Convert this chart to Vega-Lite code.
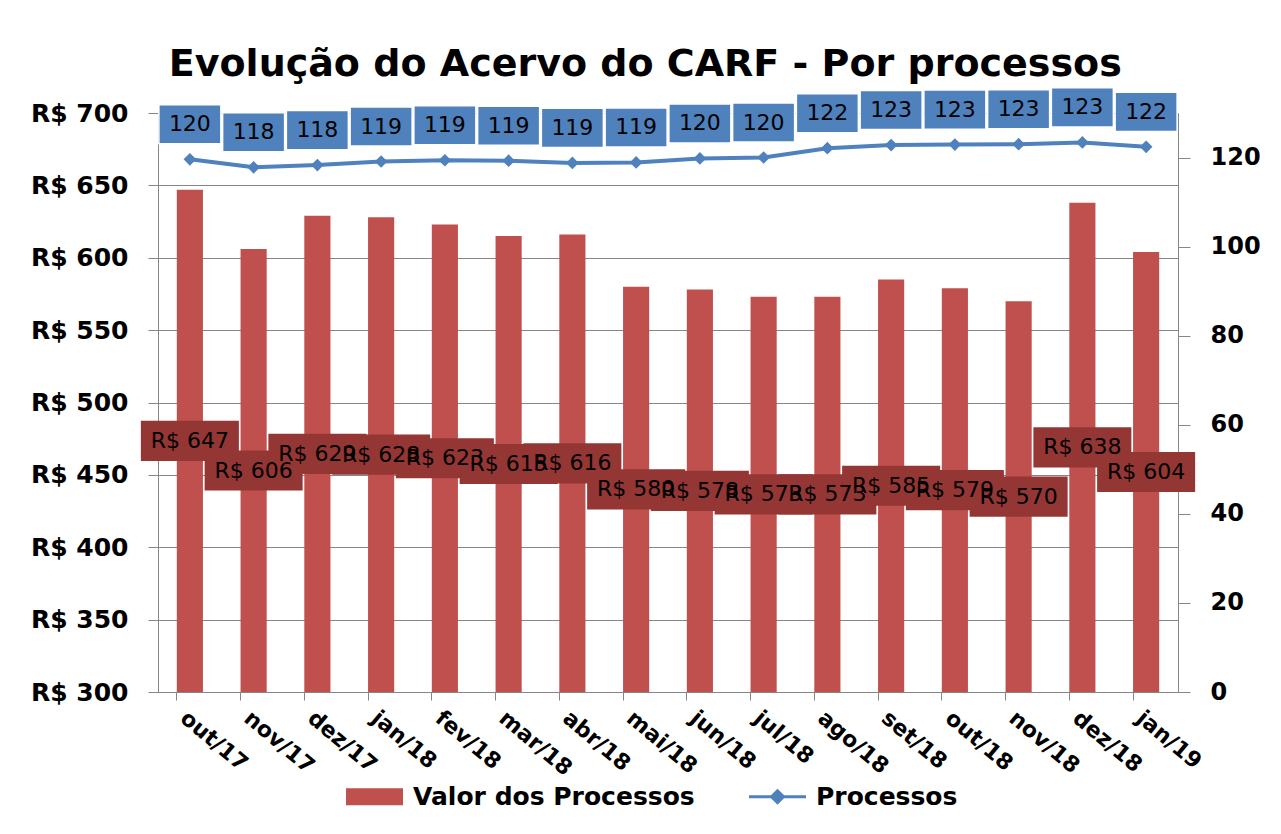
{
  "$schema": "https://vega.github.io/schema/vega-lite/v6.json",
  "width": 1020,
  "height": 579,
  "autosize": {"type": "none"},
  "padding": {"left": 158, "top": 113, "right": 103, "bottom": 142},
  "background": "white",
  "title": {
    "text": "Evolução do Acervo do CARF - Por processos",
    "font": "DejaVu Sans", "fontSize": 38, "fontWeight": "bold", "color": "black",
    "anchor": "middle", "frame": "bounds", "offset": 1
  },
  "config": {
    "locale": {"number": {"decimal": ",", "thousands": ".", "grouping": [3], "currency": ["R$ ", ""]}},
    "view": {"stroke": null},
    "axis": {
      "domainColor": "#868686", "tickColor": "#868686", "gridColor": "#868686",
      "labelFont": "DejaVu Sans", "labelFontWeight": "bold", "labelColor": "black"
    },
    "legend": {
      "orient": "none", "direction": "horizontal", "legendX": 204, "legendY": 671,
      "labelFont": "DejaVu Sans", "labelFontSize": 25, "labelFontWeight": "bold", "labelColor": "black",
      "symbolSize": 3249, "columnPadding": 48, "labelOffset": 26, "labelLimit": 400
    }
  },
  "data": {
    "values": [
      {"mes": "out/17", "valor": 647, "processos": 119.6},
      {"mes": "nov/17", "valor": 606, "processos": 117.8},
      {"mes": "dez/17", "valor": 629, "processos": 118.3},
      {"mes": "jan/18", "valor": 628, "processos": 119.1},
      {"mes": "fev/18", "valor": 623, "processos": 119.4},
      {"mes": "mar/18", "valor": 615, "processos": 119.3},
      {"mes": "abr/18", "valor": 616, "processos": 118.8},
      {"mes": "mai/18", "valor": 580, "processos": 118.9},
      {"mes": "jun/18", "valor": 578, "processos": 119.8},
      {"mes": "jul/18", "valor": 573, "processos": 120.0},
      {"mes": "ago/18", "valor": 573, "processos": 122.1},
      {"mes": "set/18", "valor": 585, "processos": 122.8},
      {"mes": "out/18", "valor": 579, "processos": 122.9},
      {"mes": "nov/18", "valor": 570, "processos": 123.0},
      {"mes": "dez/18", "valor": 638, "processos": 123.4},
      {"mes": "jan/19", "valor": 604, "processos": 122.4}
    ]
  },
  "layer": [
    {
      "mark": {"type": "bar"},
      "encoding": {
        "x": {
          "field": "mes", "type": "nominal", "sort": null,
          "scale": {"paddingInner": 0.59, "paddingOuter": 0.295},
          "axis": {"orient": "bottom", "title": null, "labelAngle": 40, "ticks": false, "domain": false, "labelFontSize": 22, "labelPadding": 15, "labelOverlap": false}
        },
        "y": {
          "field": "valor", "type": "quantitative",
          "scale": {"domain": [300, 700], "zero": false, "nice": false},
          "axis": {"orient": "left", "title": null, "values": [300, 350, 400, 450, 500, 550, 600, 650, 700], "format": "$d", "labelFontSize": 25, "tickSize": 10, "labelPadding": 20, "grid": true}
        },
        "y2": {"datum": 300},
        "color": {
          "datum": "Valor dos Processos",
          "scale": {"domain": ["Valor dos Processos", "Processos"], "range": ["#C0504D", "#4F81BD"]},
          "legend": {
            "title": null,
            "encode": {
              "symbols": {
                "update": {
                  "shape": {"signal": "datum.value === 'Processos' ? 'M-1,0H1M-0.21,0L0,-0.21L0.21,0L0,0.21Z' : 'M-1,-0.3H1V0.3H-1Z'"},
                  "fill": {"signal": "datum.value === 'Processos' ? '#4F81BD' : '#C0504D'"},
                  "stroke": {"signal": "datum.value === 'Processos' ? '#4F81BD' : '#C0504D'"},
                  "strokeWidth": {"signal": "datum.value === 'Processos' ? 3 : 0"},
                  "opacity": {"value": 1}
                }
              }
            }
          }
        }
      }
    },
    {
      "mark": {"type": "point", "shape": "M-1,-0.41H1V0.41H-1Z", "size": 9604, "filled": true, "color": "#943634", "opacity": 1},
      "encoding": {
        "x": {"field": "mes", "type": "nominal", "sort": null, "axis": null},
        "y": {"field": "valor", "type": "quantitative", "scale": {"domain": [300, 1100], "zero": false, "nice": false}, "axis": null}
      }
    },
    {
      "mark": {"type": "text", "font": "DejaVu Sans", "fontSize": 22, "color": "black"},
      "encoding": {
        "x": {"field": "mes", "type": "nominal", "sort": null, "axis": null},
        "y": {"field": "valor", "type": "quantitative", "scale": {"domain": [300, 1100], "zero": false, "nice": false}, "axis": null},
        "text": {"field": "valor", "type": "quantitative", "format": "$d"}
      }
    },
    {
      "mark": {"type": "line", "strokeWidth": 4},
      "encoding": {
        "x": {
          "field": "mes", "type": "nominal", "sort": null,
          "axis": {"orient": "bottom", "title": null, "labels": false, "bandPosition": 0, "ticks": true, "tickSize": 8, "domain": true}
        },
        "y": {
          "field": "processos", "type": "quantitative",
          "scale": {"domain": [0, 130], "nice": false},
          "axis": null
        },
        "color": {"datum": "Processos"}
      }
    },
    {
      "mark": {"type": "point", "shape": "diamond", "size": 160, "filled": true, "color": "#4F81BD", "opacity": 1},
      "encoding": {
        "x": {"field": "mes", "type": "nominal", "sort": null, "axis": null},
        "y": {
          "field": "processos", "type": "quantitative",
          "scale": {"domain": [0, 130], "nice": false},
          "axis": {"orient": "right", "title": null, "values": [0, 20, 40, 60, 80, 100, 120], "labelFontSize": 24, "labelFontWeight": "bold", "labelColor": "black", "labelAlign": "left", "ticks": true, "tickSize": 12, "labelPadding": 20, "grid": false, "domain": true}
        }
      }
    },
    {
      "mark": {"type": "point", "shape": "M-1,-0.63H1V0.63H-1Z", "size": 3844, "filled": true, "color": "#4F81BD", "stroke": "white", "strokeWidth": 1.5, "yOffset": -35, "opacity": 1},
      "encoding": {
        "x": {"field": "mes", "type": "nominal", "sort": null, "axis": null},
        "y": {"field": "processos", "type": "quantitative", "scale": {"domain": [0, 130], "nice": false}, "axis": null}
      }
    },
    {
      "mark": {"type": "text", "font": "DejaVu Sans", "fontSize": 22, "color": "black", "yOffset": -35},
      "encoding": {
        "x": {"field": "mes", "type": "nominal", "sort": null, "axis": null},
        "y": {"field": "processos", "type": "quantitative", "scale": {"domain": [0, 130], "nice": false}, "axis": null},
        "text": {"field": "processos", "type": "quantitative", "format": ".0f"}
      }
    }
  ],
  "resolve": {"scale": {"y": "independent"}, "axis": {"x": "independent"}}
}
